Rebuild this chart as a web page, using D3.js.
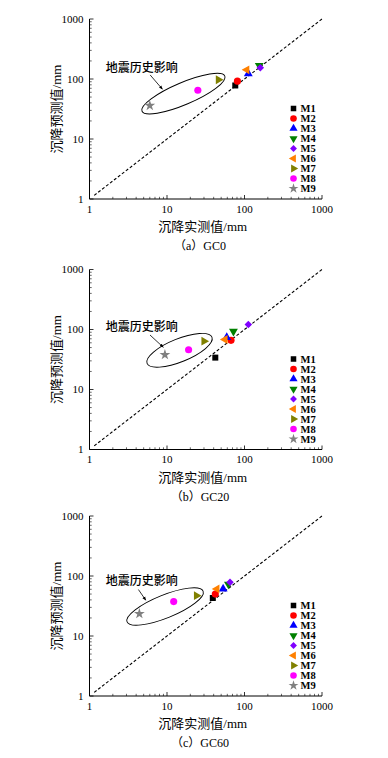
<!DOCTYPE html>
<html>
<head>
<meta charset="utf-8">
<script src="https://cdn.jsdelivr.net/npm/d3@7"></script>
<style>
  body { margin: 0; background: #fff; }
  svg { display: block; }
</style>
</head>
<body>
<div id="chart"></div>
<script>
// data
const series = ["M1", "M2", "M3", "M4", "M5", "M6", "M7", "M8", "M9"];
const gc0Measured = [76, 81, 112, 155, 160, 107, 46, 25, 6.0];
const gc0Predicted = [78, 92, 123, 168, 154, 142, 97, 65, 36];
const gc20Measured = [42, 67, 59, 72, 112, 56, 30, 19, 9.4];
const gc20Predicted = [34, 66, 74, 93, 121, 68, 64, 46, 38];
const gc60Measured = [39, 42, 53, 62, 65, 44, 24, 12.2, 4.4];
const gc60Predicted = [43, 50, 61, 73, 79, 61, 47, 37.5, 23.5];
const panelTitles = ["（a）GC0", "（b）GC20", "（c）GC60"];
const tickValues = [1, 10, 100, 1000];
const xTitle = "沉降实测值/mm";
const yTitle = "沉降预测值/mm";
const noteText = "地震历史影响";
// ellipse centres (data units) around M7-M9
const noteCentres = [[16.3, 57], [14.5, 45], [9.45, 31]];

const colors = ["#000000", "#ff0000", "#0000ff", "#008000", "#8000ff", "#ff8000", "#808000", "#ff00ff", "#808080"];
const shapes = [
  { type: d3.symbolSquare, rot: 0, size: 36 },
  { type: d3.symbolCircle, rot: 0, size: 40 },
  { type: d3.symbolTriangle, rot: 0, size: 34 },
  { type: d3.symbolTriangle, rot: 180, size: 34 },
  { type: d3.symbolSquare, rot: 45, size: 28 },
  { type: d3.symbolTriangle, rot: -90, size: 34 },
  { type: d3.symbolTriangle, rot: 90, size: 34 },
  { type: d3.symbolCircle, rot: 0, size: 40 },
  { type: d3.symbolStar, rot: 0, size: 36 }
];

const W = 388, H = 758;
const left = 89.5, right = 322;
const plotH = 180;
const panels = [
  { top: 19, mx: gc0Measured, py: gc0Predicted, ell: { rx: 45, ry: 11, ang: -23 },
    text: [-41.6, -25.4], arrow: [[-33.3, -18.7], [-21, -4.4]] },
  { top: 269.5, mx: gc20Measured, py: gc20Predicted, ell: { rx: 35, ry: 11.5, ang: -22 },
    text: [-37.8, -23.6], arrow: [[-29.5, -15.3], [-16.2, -3]] },
  { top: 516, mx: gc60Measured, py: gc60Predicted, ell: { rx: 41, ry: 11.5, ang: -22 },
    text: [-23.3, -26], arrow: [[-26.7, -17], [-19.3, -6.3]] }
];

const serif = "'Liberation Serif', 'Times New Roman', 'Noto Sans CJK SC', serif";
const cjk = "'Liberation Serif', 'Noto Sans CJK SC', serif";

const svg = d3.select("#chart").append("svg")
  .attr("width", W).attr("height", H)
  .style("background", "#fff");

svg.append("defs").append("marker")
  .attr("id", "arrowhead")
  .attr("viewBox", "0 0 10 10")
  .attr("refX", 9).attr("refY", 5)
  .attr("markerWidth", 5).attr("markerHeight", 5)
  .attr("orient", "auto")
  .append("path").attr("d", "M0,1 L10,5 L0,9 Z").attr("fill", "#000");

const minorTicks = [];
for (let d = 0; d < 3; d++) for (let k = 2; k <= 9; k++) minorTicks.push(k * Math.pow(10, d));

panels.forEach((p, pi) => {
  const x = d3.scaleLog().domain([1, 1000]).range([left, right]);
  const y = d3.scaleLog().domain([1, 1000]).range([p.top + plotH, p.top]);
  const g = svg.append("g");
  const bottom = p.top + plotH;

  // axes lines
  g.append("line").attr("x1", left).attr("x2", left).attr("y1", p.top).attr("y2", bottom)
    .attr("stroke", "#000").attr("stroke-width", 1);
  g.append("line").attr("x1", left).attr("x2", right).attr("y1", bottom).attr("y2", bottom)
    .attr("stroke", "#000").attr("stroke-width", 1);

  // ticks pointing inward
  g.selectAll(".ymaj").data(tickValues).join("line")
    .attr("x1", left).attr("x2", left + 4).attr("y1", d => y(d)).attr("y2", d => y(d))
    .attr("stroke", "#000").attr("stroke-width", 0.8);
  g.selectAll(".ymin").data(minorTicks).join("line")
    .attr("x1", left).attr("x2", left + 2.2).attr("y1", d => y(d)).attr("y2", d => y(d))
    .attr("stroke", "#000").attr("stroke-width", 0.6);
  g.selectAll(".xmaj").data(tickValues).join("line")
    .attr("x1", d => x(d)).attr("x2", d => x(d)).attr("y1", bottom).attr("y2", bottom - 4)
    .attr("stroke", "#000").attr("stroke-width", 0.8);
  g.selectAll(".xmin").data(minorTicks).join("line")
    .attr("x1", d => x(d)).attr("x2", d => x(d)).attr("y1", bottom).attr("y2", bottom - 2.2)
    .attr("stroke", "#000").attr("stroke-width", 0.6);

  // tick labels
  g.selectAll(".ylab").data(tickValues).join("text")
    .attr("x", left - 6).attr("y", d => y(d)).attr("dy", "0.35em")
    .attr("text-anchor", "end").attr("font-family", serif).attr("font-size", "11px")
    .text(d => d);
  g.selectAll(".xlab").data(tickValues).join("text")
    .attr("x", d => x(d)).attr("y", bottom + 13.5)
    .attr("text-anchor", "middle").attr("font-family", serif).attr("font-size", "11px")
    .text(d => d);

  // axis titles
  g.append("text").attr("x", (left + right) / 2 - 3).attr("y", bottom + 32)
    .attr("text-anchor", "middle").attr("font-family", cjk).attr("font-size", "13px")
    .text(xTitle);
  g.append("text")
    .attr("transform", `translate(61,${(p.top + bottom) / 2}) rotate(-90)`)
    .attr("text-anchor", "middle").attr("font-family", cjk).attr("font-size", "13px")
    .text(yTitle);
  g.append("text").attr("x", 200).attr("y", bottom + 51)
    .attr("text-anchor", "middle").attr("font-family", cjk).attr("font-size", "12px")
    .text(panelTitles[pi]);

  // 1:1 line
  g.append("line")
    .attr("x1", x(1.15)).attr("y1", y(1.15)).attr("x2", x(1000)).attr("y2", y(1000))
    .attr("stroke", "#000").attr("stroke-width", 1.1).attr("stroke-dasharray", "3,2");

  // annotation
  const cx = x(noteCentres[pi][0]), cy = y(noteCentres[pi][1]);
  g.append("ellipse")
    .attr("cx", 0).attr("cy", 0).attr("rx", p.ell.rx).attr("ry", p.ell.ry)
    .attr("transform", `translate(${cx},${cy}) rotate(${p.ell.ang})`)
    .attr("fill", "none").attr("stroke", "#000").attr("stroke-width", 0.9);
  g.append("text").attr("x", cx + p.text[0]).attr("y", cy + p.text[1]).attr("dy", "0.35em")
    .attr("text-anchor", "middle").attr("font-family", cjk).attr("font-size", "12px")
    .attr("font-weight", "500").text(noteText);
  g.append("line")
    .attr("x1", cx + p.arrow[0][0]).attr("y1", cy + p.arrow[0][1])
    .attr("x2", cx + p.arrow[1][0]).attr("y2", cy + p.arrow[1][1])
    .attr("stroke", "#000").attr("stroke-width", 0.8).attr("marker-end", "url(#arrowhead)");

  // points
  const pts = series.map((s, i) => ({ s, i, mx: p.mx[i], py: p.py[i] }));
  g.selectAll(".pt").data(pts).join("path")
    .attr("d", d => d3.symbol().type(shapes[d.i].type).size(shapes[d.i].size)())
    .attr("transform", d => `translate(${x(d.mx)},${y(d.py)}) rotate(${shapes[d.i].rot})`)
    .attr("fill", d => colors[d.i]);

  // legend
  const lg = g.append("g").attr("transform", `translate(293.5,${p.top + 89.5})`);
  const rows = lg.selectAll("g").data(series).join("g")
    .attr("transform", (d, i) => `translate(0,${i * 10})`);
  rows.append("path")
    .attr("d", (d, i) => d3.symbol().type(shapes[i].type).size(shapes[i].size * 0.85)())
    .attr("transform", (d, i) => `rotate(${shapes[i].rot})`)
    .attr("fill", (d, i) => colors[i]);
  rows.append("text").attr("x", 7).attr("dy", "0.35em")
    .attr("font-family", serif).attr("font-size", "10.5px").attr("font-weight", "bold")
    .text(d => d);
});
</script>
</body>
</html>
